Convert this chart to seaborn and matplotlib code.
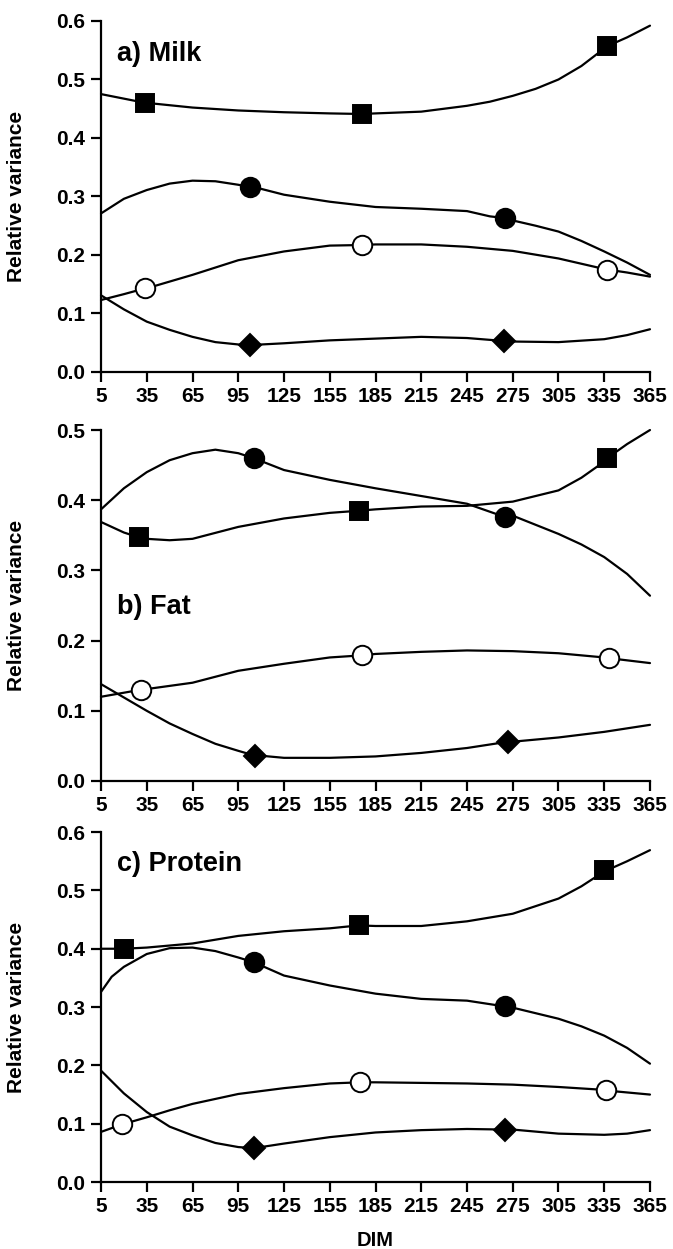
import numpy as np
import pandas as pd
import seaborn as sns
import matplotlib.pyplot as plt

# ---- a) Milk ----
# fitted curves (DIM, relative variance)
milk_sq_dim = [5, 35, 65, 95, 125, 155, 185, 215, 245, 260, 275, 290, 305, 320, 335, 350, 365]
milk_sq = [0.475, 0.460, 0.452, 0.447, 0.444, 0.442, 0.442, 0.445, 0.455, 0.462, 0.472, 0.484, 0.500, 0.523, 0.553, 0.572, 0.592]
milk_fc_dim = [5, 20, 35, 50, 65, 80, 95, 110, 125, 155, 185, 215, 245, 260, 275, 290, 305, 320, 335, 350, 365]
milk_fc = [0.271, 0.296, 0.311, 0.322, 0.327, 0.326, 0.320, 0.313, 0.303, 0.291, 0.282, 0.279, 0.275, 0.266, 0.259, 0.250, 0.240, 0.224, 0.206, 0.187, 0.166]
milk_oc_dim = [5, 20, 35, 65, 95, 125, 155, 185, 215, 245, 275, 305, 335, 350, 365]
milk_oc = [0.123, 0.133, 0.143, 0.166, 0.191, 0.206, 0.216, 0.218, 0.218, 0.214, 0.207, 0.194, 0.176, 0.170, 0.163]
milk_di_dim = [5, 20, 35, 50, 65, 80, 95, 125, 155, 185, 215, 245, 275, 305, 335, 350, 365]
milk_di = [0.131, 0.107, 0.086, 0.072, 0.060, 0.051, 0.047, 0.049, 0.054, 0.057, 0.060, 0.058, 0.052, 0.051, 0.056, 0.063, 0.073]
# estimated points
milk_sq_x, milk_sq_y = [34, 176, 337], [0.460, 0.441, 0.557]
milk_fc_x, milk_fc_y = [103, 270], [0.316, 0.263]
milk_oc_x, milk_oc_y = [34, 176, 337], [0.143, 0.217, 0.175]
milk_di_x, milk_di_y = [103, 269], [0.046, 0.053]

# ---- b) Fat ----
fat_sq_dim = [5, 20, 35, 50, 65, 95, 125, 155, 185, 215, 245, 275, 305, 320, 335, 350, 365]
fat_sq = [0.369, 0.354, 0.345, 0.343, 0.345, 0.362, 0.374, 0.382, 0.387, 0.391, 0.392, 0.398, 0.414, 0.432, 0.455, 0.480, 0.500]
fat_fc_dim = [5, 20, 35, 50, 65, 80, 95, 125, 155, 185, 215, 245, 275, 305, 320, 335, 350, 365]
fat_fc = [0.387, 0.417, 0.440, 0.457, 0.467, 0.472, 0.467, 0.443, 0.429, 0.417, 0.406, 0.395, 0.378, 0.352, 0.337, 0.319, 0.295, 0.264]
fat_oc_dim = [5, 35, 65, 95, 125, 155, 185, 215, 245, 275, 305, 335, 365]
fat_oc = [0.120, 0.131, 0.140, 0.157, 0.167, 0.176, 0.181, 0.184, 0.186, 0.185, 0.182, 0.176, 0.168]
fat_di_dim = [5, 20, 35, 50, 65, 80, 95, 110, 125, 155, 185, 215, 245, 275, 305, 335, 365]
fat_di = [0.138, 0.119, 0.100, 0.082, 0.067, 0.053, 0.043, 0.036, 0.033, 0.033, 0.035, 0.040, 0.047, 0.056, 0.062, 0.070, 0.080]
fat_sq_x, fat_sq_y = [30, 174, 337], [0.347, 0.385, 0.460]
fat_fc_x, fat_fc_y = [105, 270], [0.460, 0.376]
fat_oc_x, fat_oc_y = [31, 176, 338], [0.130, 0.179, 0.175]
fat_di_x, fat_di_y = [106, 272], [0.036, 0.056]

# ---- c) Protein ----
prot_sq_dim = [5, 35, 65, 95, 125, 155, 185, 215, 245, 275, 305, 320, 335, 350, 365]
prot_sq = [0.400, 0.402, 0.409, 0.422, 0.430, 0.435, 0.439, 0.439, 0.447, 0.460, 0.486, 0.507, 0.530, 0.550, 0.569]
prot_fc_dim = [5, 12, 20, 35, 50, 65, 80, 95, 125, 155, 185, 215, 245, 275, 305, 320, 335, 350, 365]
prot_fc = [0.326, 0.352, 0.369, 0.391, 0.401, 0.402, 0.396, 0.385, 0.354, 0.337, 0.323, 0.314, 0.311, 0.299, 0.280, 0.267, 0.251, 0.230, 0.203]
prot_oc_dim = [5, 35, 50, 65, 95, 125, 155, 185, 215, 245, 275, 305, 335, 365]
prot_oc = [0.086, 0.111, 0.123, 0.134, 0.151, 0.161, 0.169, 0.171, 0.170, 0.169, 0.167, 0.163, 0.158, 0.150]
prot_di_dim = [5, 20, 35, 50, 65, 80, 95, 125, 155, 185, 215, 245, 275, 305, 335, 350, 365]
prot_di = [0.191, 0.152, 0.120, 0.095, 0.080, 0.067, 0.060, 0.066, 0.077, 0.085, 0.089, 0.091, 0.090, 0.083, 0.081, 0.083, 0.089]
prot_sq_x, prot_sq_y = [20, 174, 335], [0.400, 0.440, 0.535]
prot_fc_x, prot_fc_y = [105, 270], [0.377, 0.301]
prot_oc_x, prot_oc_y = [19, 175, 336], [0.099, 0.171, 0.157]
prot_di_x, prot_di_y = [105, 270], [0.058, 0.090]

panel_titles = ["a) Milk", "b) Fat", "c) Protein"]
panel_ymax = [0.6, 0.5, 0.6]
title_y = [0.906, 0.496, 0.909]
x_ticks = [5, 35, 65, 95, 125, 155, 185, 215, 245, 275, 305, 335, 365]

sns.set_theme(style="ticks", rc={"text.color": "black", "axes.labelcolor": "black",
                                 "axes.edgecolor": "black", "xtick.color": "black",
                                 "ytick.color": "black"})
plt.rcParams["font.family"] = ["Liberation Sans", "DejaVu Sans"]
plt.rcParams["font.weight"] = "bold"

fig = plt.figure(figsize=(6.73, 12.49), dpi=100)
axes = [fig.add_axes([0.1501, 0.7022, 0.8157, 0.281]),
        fig.add_axes([0.1501, 0.3747, 0.8157, 0.281]),
        fig.add_axes([0.1501, 0.0536, 0.8157, 0.2802])]

panels = [
    [(milk_sq_dim, milk_sq, milk_sq_x, milk_sq_y), (milk_fc_dim, milk_fc, milk_fc_x, milk_fc_y),
     (milk_oc_dim, milk_oc, milk_oc_x, milk_oc_y), (milk_di_dim, milk_di, milk_di_x, milk_di_y)],
    [(fat_sq_dim, fat_sq, fat_sq_x, fat_sq_y), (fat_fc_dim, fat_fc, fat_fc_x, fat_fc_y),
     (fat_oc_dim, fat_oc, fat_oc_x, fat_oc_y), (fat_di_dim, fat_di, fat_di_x, fat_di_y)],
    [(prot_sq_dim, prot_sq, prot_sq_x, prot_sq_y), (prot_fc_dim, prot_fc, prot_fc_x, prot_fc_y),
     (prot_oc_dim, prot_oc, prot_oc_x, prot_oc_y), (prot_di_dim, prot_di, prot_di_x, prot_di_y)],
]

styles = [("s", "black", 13), ("o", "black", 14), ("o", "white", 14), ("D", "black", 11.5)]

for i, ax in enumerate(axes):
    for (cx, cy, px, py), (mk, fc, ms) in zip(panels[i], styles):
        # the points sit on the curve, so add them to the line too
        line = pd.DataFrame({"DIM": list(cx) + list(px), "val": list(cy) + list(py)})
        line = line.sort_values("DIM")
        sns.lineplot(data=line, x="DIM", y="val", ax=ax, color="black",
                     lw=1.6, sort=False, clip_on=False, zorder=2)
        ax.plot(px, py, linestyle="none", marker=mk, markersize=ms,
                markerfacecolor=fc, markeredgecolor="black", markeredgewidth=1.4,
                clip_on=False, zorder=3)

    ax.set_xlim(5, 365)
    ax.set_ylim(0, panel_ymax[i])
    ax.set_xticks(x_ticks)
    ax.set_yticks(np.arange(0, panel_ymax[i] + 0.01, 0.1))
    ax.yaxis.set_major_formatter(plt.FormatStrFormatter("%.1f"))
    ax.tick_params(direction="out", length=7.5, width=1.6, labelsize=15, colors="black")
    ax.tick_params(axis="x", pad=3)
    ax.tick_params(axis="y", pad=4)
    for lbl in ax.get_xticklabels() + ax.get_yticklabels():
        lbl.set_fontweight("bold")
    sns.despine(ax=ax)
    for side in ["left", "bottom"]:
        ax.spines[side].set_linewidth(1.6)
        ax.spines[side].set_color("black")
    ax.set_ylabel("Relative variance", fontsize=15, fontweight="bold", color="black")
    ax.yaxis.set_label_coords(-0.137, 0.5)
    ax.set_xlabel("")
    ax.text(0.029, title_y[i], panel_titles[i], transform=ax.transAxes,
            fontsize=19.5, fontweight="bold", va="center", ha="left", color="black")

axes[2].set_xlabel("DIM", fontsize=14.5, fontweight="bold", color="black")
axes[2].xaxis.set_label_coords(0.5, -0.139)

fig.savefig("out.png", dpi=100)
